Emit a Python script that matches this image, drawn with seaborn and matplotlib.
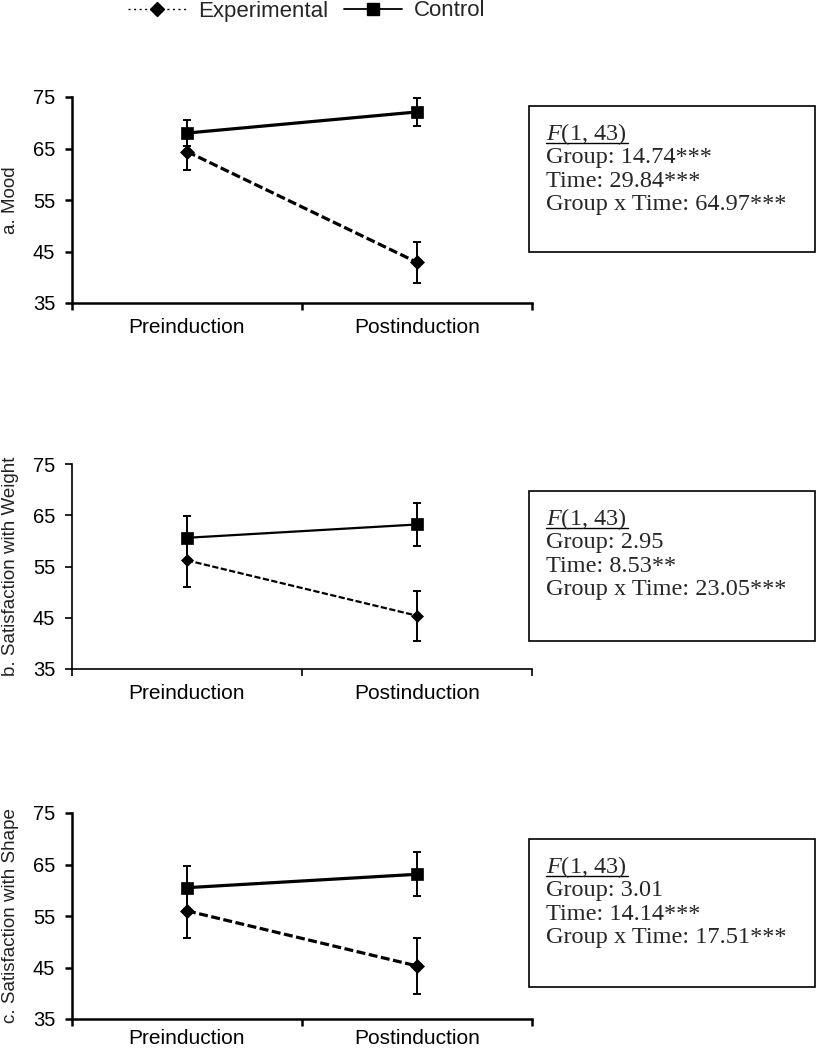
import matplotlib
matplotlib.use("Agg")
import matplotlib.pyplot as plt
from matplotlib.lines import Line2D
from matplotlib.patches import Rectangle
import seaborn as sns
import pandas as pd

# ---------------- data ----------------
times = ["Preinduction", "Postinduction"]
groups = ["Experimental", "Control"]

mood_exp = [64.4, 42.9]
mood_exp_err = [3.6, 4.0]
mood_ctl = [68.0, 72.1]
mood_ctl_err = [2.5, 2.8]

weight_exp = [56.2, 45.4]
weight_exp_err = [5.2, 4.9]
weight_ctl = [60.6, 63.2]
weight_ctl_err = [4.3, 4.2]

shape_exp = [56.0, 45.3]
shape_exp_err = [5.2, 5.4]
shape_ctl = [60.5, 63.1]
shape_ctl_err = [4.2, 4.3]

ylabels = ["a. Mood", "b. Satisfaction with Weight", "c. Satisfaction with Shape"]
yticks = [35, 45, 55, 65, 75]

stats_a = ["Group: 14.74***", "Time: 29.84***", "Group x Time: 64.97***"]
stats_b = ["Group: 2.95", "Time: 8.53**", "Group x Time: 23.05***"]
stats_c = ["Group: 3.01", "Time: 14.14***", "Group x Time: 17.51***"]
f_label = "(1, 43)"

# ---------------- style ----------------
sns.set_theme(style="white")
plt.rcParams["font.family"] = ["Liberation Sans", "DejaVu Sans"]
plt.rcParams["mathtext.fontset"] = "custom"
plt.rcParams["mathtext.it"] = "Liberation Serif:italic"
plt.rcParams["mathtext.rm"] = "Liberation Serif"

W, H = 816, 1050
fig = plt.figure(figsize=(W / 100, H / 100), dpi=100)

panels = [
    dict(exp=mood_exp, expe=mood_exp_err, ctl=mood_ctl, ctle=mood_ctl_err,
         top=97, bot=303, lw=2.3, spw=1.8, ms_s=8.5, ms_d=7.5, stats=stats_a,
         box=(529, 106, 815, 252), pad=11),
    dict(exp=weight_exp, expe=weight_exp_err, ctl=weight_ctl, ctle=weight_ctl_err,
         top=464, bot=669, lw=1.6, spw=1.2, ms_s=8.0, ms_d=6.5, stats=stats_b,
         box=(529, 491, 815, 641), pad=11),
    dict(exp=shape_exp, expe=shape_exp_err, ctl=shape_ctl, ctle=shape_ctl_err,
         top=813, bot=1019, lw=2.3, spw=1.8, ms_s=8.5, ms_d=7.5, stats=stats_c,
         box=(529, 839, 815, 987), pad=7),
]

ax_left, ax_right = 72, 532

for i, p in enumerate(panels):
    ax = fig.add_axes([ax_left / W, 1 - p["bot"] / H,
                       (ax_right - ax_left) / W, (p["bot"] - p["top"]) / H])
    df = pd.DataFrame({
        "x": [0, 1, 0, 1],
        "Score": p["exp"] + p["ctl"],
        "Group": [groups[0]] * 2 + [groups[1]] * 2,
    })
    sns.lineplot(data=df, x="x", y="Score", hue="Group", style="Group",
                 palette={groups[0]: "black", groups[1]: "black"},
                 markers={groups[0]: "D", groups[1]: "s"},
                 dashes={groups[0]: (2.8, 1.1), groups[1]: ""},
                 legend=False, ax=ax, linewidth=p["lw"],
                 markersize=p["ms_s"], markeredgecolor="black",
                 markeredgewidth=0.5, errorbar=None)
    for ln in ax.get_lines():
        if ln.get_marker() == "D":
            ln.set_markersize(p["ms_d"])
    ax.errorbar([0, 1], p["exp"], yerr=p["expe"], fmt="none", ecolor="black",
                elinewidth=1.4, capsize=3, capthick=1.4)
    ax.errorbar([0, 1], p["ctl"], yerr=p["ctle"], fmt="none", ecolor="black",
                elinewidth=1.4, capsize=3, capthick=1.4)

    ax.set_xlim(-0.5, 1.5)
    ax.set_ylim(35, 75)
    ax.set_yticks(yticks)
    ax.set_yticklabels([str(v) for v in yticks], fontsize=14.5)
    ax.set_xticks([-0.5, 0.5, 1.5])
    ax.set_xticklabels([])
    ax.set_xticks([0, 1], minor=True)
    ax.set_xticklabels(times, minor=True, fontsize=15)
    ax.tick_params(axis="x", which="major", direction="out", length=5,
                   width=p["spw"], color="black", bottom=True)
    ax.tick_params(axis="x", which="minor", length=0, pad=p["pad"], colors="black")
    ax.tick_params(axis="y", direction="out", length=5, width=p["spw"],
                   pad=7, color="black", labelcolor="black", left=True)
    for s in ["top", "right"]:
        ax.spines[s].set_visible(False)
    for s in ["left", "bottom"]:
        ax.spines[s].set_color("black")
        ax.spines[s].set_linewidth(p["spw"])
    ax.set_xlabel("")
    ax.set_ylabel(ylabels[i], fontsize=13.5, color="#222222")
    ax.yaxis.set_label_coords(-(ax_left - 19) / (ax_right - ax_left), 0.5)

    # statistics box
    x0, y0, x1, y1 = p["box"]
    fig.patches.append(Rectangle((x0 / W, 1 - y1 / H), (x1 - x0) / W, (y1 - y0) / H,
                                 transform=fig.transFigure, fill=False,
                                 edgecolor="black", linewidth=1.2))
    tx = 546
    base = y0 + 34
    fig.text(tx / W, 1 - base / H, r"$\mathit{F}$" + f_label,
             fontsize=17.5, family="Liberation Serif", va="baseline", ha="left")
    fig.lines.append(Line2D([tx / W, (tx + 82) / W],
                            [1 - (base + 3) / H, 1 - (base + 3) / H],
                            transform=fig.transFigure, color="black", linewidth=1.0))
    for k, line in enumerate(p["stats"]):
        fig.text(tx / W, 1 - (base + 23.3 * (k + 1)) / H, line,
                 fontsize=17.5, family="Liberation Serif", va="baseline", ha="left")

# ---------------- legend ----------------
handles = [
    Line2D([], [], color="black", linestyle=(0, (1.5, 2.5)), linewidth=1.0,
           marker="D", markersize=7, markerfacecolor="black"),
    Line2D([], [], color="black", linestyle="-", linewidth=1.3,
           marker="s", markersize=8, markerfacecolor="black"),
]
fig.legend(handles, groups, loc="center", bbox_to_anchor=(307 / W, 1 - 11 / H),
           ncol=2, frameon=False, fontsize=16, handlelength=2.6,
           handletextpad=0.55, columnspacing=0.7, borderpad=0.1)

fig.savefig("out.png", dpi=100, facecolor="white")
